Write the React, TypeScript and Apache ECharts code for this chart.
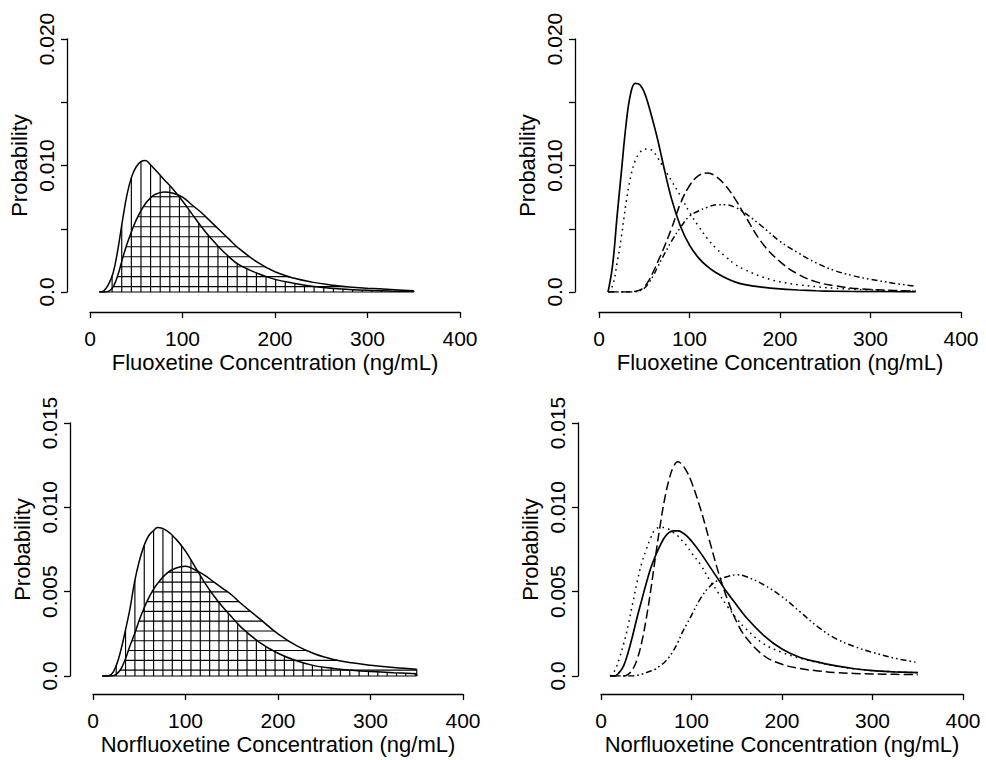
import React, { useEffect, useRef } from "react";
import * as echarts from "echarts";

// ---------- data ----------
// concentration grid, ng/mL
const fluoConc = [10, 15, 20, 25, 30, 35, 40, 45, 50, 55, 60, 65, 70, 80, 90, 100, 110, 120, 130, 140, 150, 160, 180, 200, 220, 240, 260, 280, 300, 325, 350];
const norConcL = [10, 15, 20, 25, 30, 35, 40, 45, 50, 55, 60, 65, 70, 80, 90, 100, 110, 120, 130, 140, 150, 160, 180, 200, 220, 240, 260, 280, 300, 325, 350];
const norConcR = [10, 15, 20, 25, 30, 35, 40, 45, 50, 55, 60, 65, 70, 75, 80, 85, 90, 95, 100, 110, 120, 130, 140, 150, 160, 180, 200, 220, 240, 260, 280, 300, 325, 350];

// top-left: fluoxetine, two shaded densities
const fluoShadeVert = [0, 0.0001, 0.0006, 0.0015, 0.0033, 0.0056, 0.0077, 0.0091, 0.0099, 0.0103, 0.0104, 0.0101, 0.0097, 0.0089, 0.0081, 0.0072, 0.0062, 0.0052, 0.0043, 0.0035, 0.0028, 0.0022, 0.0015, 0.0010, 0.0007, 0.00046, 0.0003, 0.0002, 0.00013, 0.00008, 0.00005];
const fluoShadeHoriz = [0, 0, 0.00005, 0.0004, 0.0013, 0.0026, 0.0038, 0.0048, 0.0057, 0.0064, 0.0070, 0.0074, 0.0077, 0.0079, 0.0078, 0.0075, 0.0069, 0.0063, 0.0056, 0.0049, 0.0042, 0.0035, 0.0024, 0.0016, 0.0011, 0.00078, 0.00056, 0.0004, 0.0003, 0.0002, 0.0001];

// top-right: fluoxetine, four densities
const fluoSolid = [0, 0.0021, 0.0060, 0.0097, 0.0133, 0.0157, 0.0165, 0.0164, 0.0158, 0.0147, 0.0134, 0.0120, 0.0104, 0.0074, 0.0052, 0.0037, 0.0027, 0.0020, 0.0015, 0.0011, 0.0008, 0.0006, 0.00038, 0.00024, 0.00016, 0.0001, 0.00006, 0.00004, 0.00003, 0.00002, 0.00001];
const fluoDotted = [0, 0.0005, 0.0023, 0.0045, 0.0071, 0.0091, 0.0104, 0.0110, 0.0113, 0.0113, 0.0111, 0.0106, 0.0100, 0.0088, 0.0076, 0.0063, 0.0052, 0.0042, 0.0034, 0.0028, 0.0022, 0.0018, 0.0012, 0.0008, 0.00058, 0.00042, 0.0003, 0.00022, 0.00016, 0.0001, 0.00007];
const fluoDashed = [0, 0, 0, 0, 0, 0.00002, 0.00005, 0.00015, 0.0004, 0.0009, 0.0016, 0.0024, 0.0032, 0.0050, 0.0070, 0.0084, 0.0092, 0.0094, 0.0091, 0.0084, 0.0074, 0.0062, 0.0039, 0.0024, 0.0014, 0.0008, 0.0005, 0.0003, 0.0002, 0.00012, 0.00007];
const fluoDashDot = [0, 0, 0, 0, 0, 0, 0.00002, 0.0001, 0.0003, 0.0007, 0.0013, 0.0020, 0.0027, 0.0040, 0.0051, 0.0060, 0.0064, 0.0067, 0.0069, 0.0069, 0.0067, 0.0063, 0.0052, 0.0040, 0.0031, 0.0023, 0.0017, 0.0013, 0.0010, 0.0007, 0.00045];

// bottom-left: norfluoxetine, two shaded densities
const norShadeVert = [0, 0, 0.0001, 0.0006, 0.0015, 0.0027, 0.0040, 0.0056, 0.0068, 0.0077, 0.0083, 0.0086, 0.0088, 0.0086, 0.0081, 0.0074, 0.0065, 0.0056, 0.0048, 0.0041, 0.0035, 0.0029, 0.0020, 0.00135, 0.0009, 0.0006, 0.00045, 0.00034, 0.00026, 0.00019, 0.00014];
const norShadeHoriz = [0, 0, 0, 0.0001, 0.0004, 0.0010, 0.0018, 0.0025, 0.0033, 0.0040, 0.0046, 0.0051, 0.0055, 0.0061, 0.0064, 0.0065, 0.0063, 0.0060, 0.0056, 0.0052, 0.0048, 0.0043, 0.0034, 0.0025, 0.0018, 0.0013, 0.00098, 0.00078, 0.00064, 0.0005, 0.0004];

// bottom-right: norfluoxetine, four densities
const norSolid = [0, 0, 0.0002, 0.0006, 0.0014, 0.0024, 0.0035, 0.0045, 0.0055, 0.0064, 0.0071, 0.0077, 0.0082, 0.0085, 0.0086, 0.0086, 0.0085, 0.0083, 0.0080, 0.0073, 0.0065, 0.0057, 0.0049, 0.0042, 0.0035, 0.0024, 0.0016, 0.0011, 0.00082, 0.0006, 0.00043, 0.00032, 0.00025, 0.0002];
const norDotted = [0, 0.0003, 0.0010, 0.0019, 0.0030, 0.0043, 0.0056, 0.0067, 0.0075, 0.0082, 0.0087, 0.0088, 0.0088, 0.0087, 0.0085, 0.0083, 0.0080, 0.0077, 0.0073, 0.0066, 0.0057, 0.0049, 0.0041, 0.0034, 0.0028, 0.0019, 0.0014, 0.00105, 0.0008, 0.0006, 0.00043, 0.00032, 0.00025, 0.0002];
const norDashed = [0, 0, 0, 0, 0.0001, 0.0004, 0.0010, 0.0020, 0.0034, 0.0051, 0.0070, 0.0088, 0.0104, 0.0116, 0.0124, 0.0127, 0.0125, 0.0121, 0.0115, 0.0099, 0.0080, 0.0061, 0.0045, 0.0032, 0.0023, 0.0012, 0.0007, 0.00044, 0.0003, 0.0002, 0.00015, 0.00012, 0.0001, 0.00008];
const norDashDot = [0, 0, 0, 0, 0, 0, 0.00005, 0.0001, 0.0002, 0.0003, 0.0004, 0.0006, 0.0008, 0.0011, 0.0015, 0.0020, 0.0026, 0.0031, 0.0036, 0.0046, 0.0053, 0.0057, 0.0059, 0.0060, 0.0059, 0.0054, 0.0047, 0.0038, 0.0029, 0.0022, 0.00175, 0.0014, 0.00105, 0.0008];

// tick labels
const xTickLabels = ["0", "100", "200", "300", "400"];
const yTickLabelsTop = ["0.0", "", "0.010", "", "0.020"];
const yTickLabelsBottom = ["0.0", "0.005", "0.010", "0.015"];

const fluoTitle = "Fluoxetine Concentration (ng/mL)";
const norTitle = "Norfluoxetine Concentration (ng/mL)";
const yTitle = "Probability";

// ---------- styles ----------
const FONT = "'Liberation Sans', Arial, Helvetica, sans-serif";
const INK = "#000";
const DASHED = [9, 4];
const DOTTED = [1.6, 4.2];
const DASHDOT = [6, 3, 1.6, 3, 1.6, 3];

function interp(xs: number[], ys: number[], x: number) {
  if (x <= xs[0]) return ys[0];
  for (let i = 0; i < xs.length - 1; i++) {
    if (x <= xs[i + 1]) {
      const t = (x - xs[i]) / (xs[i + 1] - xs[i]);
      return ys[i] + t * (ys[i + 1] - ys[i]);
    }
  }
  return ys[ys.length - 1];
}

// hatch segments clipped to the curves (vertical under one, horizontal under the other)
function hatchSegments(xs: number[], vertYs: number[], horizYs: number[], h: { vStart: number; vStep: number; hStart: number; hStep: number }) {
  const segs: number[][] = [];
  const last = xs.length - 1;
  for (let x = h.vStart; x <= xs[last] + 1e-9; x += h.vStep) {
    if (x < xs[0]) continue;
    const y = interp(xs, vertYs, x);
    if (y > 0) segs.push([x, 0, x, y]);
  }
  const maxY = Math.max(...horizYs);
  for (let lv = h.hStart; lv < maxY; lv += h.hStep) {
    const pts: number[] = [];
    for (let i = 0; i < last; i++) {
      const a = horizYs[i] - lv;
      const b = horizYs[i + 1] - lv;
      if ((a < 0 && b >= 0) || (a >= 0 && b < 0)) pts.push(xs[i] + (xs[i + 1] - xs[i]) * (a / (a - b)));
    }
    if (horizYs[last] >= lv) pts.push(xs[last]);
    for (let j = 0; j + 1 < pts.length; j += 2) segs.push([pts[j], lv, pts[j + 1], lv]);
  }
  segs.push([xs[0], 0, xs[last], 0]);
  segs.push([xs[last], 0, xs[last], vertYs[last]]);
  segs.push([xs[last], 0, xs[last], horizYs[last]]);
  return segs;
}

function pairs(xs: number[], ys: number[]) {
  return xs.map((x, i) => [x, ys[i]]);
}

function curve(idx: number, xs: number[], ys: number[], dash: any, width = 1.5) {
  return {
    type: "line",
    xAxisIndex: idx,
    yAxisIndex: idx,
    data: pairs(xs, ys),
    showSymbol: false,
    symbol: "none",
    smooth: 0.4,
    silent: true,
    lineStyle: { color: INK, width, type: dash },
    z: 3,
  };
}

function hatch(idx: number, segs: number[][]) {
  return {
    type: "custom",
    xAxisIndex: idx,
    yAxisIndex: idx,
    data: segs,
    silent: true,
    encode: { x: [0, 2], y: [1, 3] },
    renderItem: (_p: any, api: any) => {
      const a = api.coord([api.value(0), api.value(1)]);
      const b = api.coord([api.value(2), api.value(3)]);
      return {
        type: "line",
        shape: { x1: a[0], y1: a[1], x2: b[0], y2: b[1] },
        style: { stroke: INK, lineWidth: 1.15 },
      };
    },
    z: 2,
  };
}

const panels = [
  { left: 90, top: 39, width: 370, height: 253, yOff: 23, xOff: 20, max: 0.02, yLabels: yTickLabelsTop, title: fluoTitle },
  { left: 599, top: 39, width: 362, height: 253, yOff: 24, xOff: 20, max: 0.02, yLabels: yTickLabelsTop, title: fluoTitle },
  { left: 93, top: 423, width: 370, height: 253, yOff: 23, xOff: 18, max: 0.015, yLabels: yTickLabelsBottom, title: norTitle },
  { left: 601, top: 423, width: 362, height: 253, yOff: 23, xOff: 18, max: 0.015, yLabels: yTickLabelsBottom, title: norTitle },
];

function buildOption() {
  const grid = panels.map((p) => ({ left: p.left, top: p.top, width: p.width, height: p.height, containLabel: false }));
  const xAxis = panels.map((p, i) => ({
    type: "value",
    gridIndex: i,
    min: 0,
    max: 400,
    interval: 100,
    offset: p.xOff,
    axisLine: { show: true, onZero: false, lineStyle: { color: INK, width: 1.3 } },
    axisTick: { show: true, length: 6, lineStyle: { color: INK, width: 1.3 } },
    axisLabel: { color: INK, fontSize: 21, fontFamily: FONT, margin: 16, formatter: (_v: number, k: number) => xTickLabels[k] ?? "" },
    splitLine: { show: false },
    name: p.title,
    nameLocation: "middle",
    nameGap: 39,
    nameTextStyle: { color: INK, fontSize: 22, fontFamily: FONT },
  }));
  const yAxis = panels.map((p, i) => ({
    type: "value",
    gridIndex: i,
    min: 0,
    max: p.max,
    interval: 0.005,
    offset: p.yOff,
    axisLine: { show: true, onZero: false, lineStyle: { color: INK, width: 1.3 } },
    axisTick: { show: true, length: 6, lineStyle: { color: INK, width: 1.3 } },
    axisLabel: { color: INK, fontSize: 21, fontFamily: FONT, margin: 10, rotate: 90, formatter: (_v: number, k: number) => p.yLabels[k] ?? "" },
    splitLine: { show: false },
    name: yTitle,
    nameLocation: "middle",
    nameGap: 37,
    nameRotate: 90,
    nameTextStyle: { color: INK, fontSize: 22, fontFamily: FONT },
  }));

  const series: any[] = [
    hatch(0, hatchSegments(fluoConc, fluoShadeVert, fluoShadeHoriz, { vStart: 13.5, vStep: 10.4, hStart: 0.00042, hStep: 0.00079 })),
    curve(0, fluoConc, fluoShadeVert, "solid"),
    curve(0, fluoConc, fluoShadeHoriz, "solid"),

    curve(1, fluoConc, fluoSolid, "solid", 1.7),
    curve(1, fluoConc, fluoDotted, DOTTED),
    curve(1, fluoConc, fluoDashed, DASHED),
    curve(1, fluoConc, fluoDashDot, DASHDOT),

    hatch(2, hatchSegments(norConcL, norShadeVert, norShadeHoriz, { vStart: 15, vStep: 10.1, hStart: 0.00035, hStep: 0.00058 })),
    curve(2, norConcL, norShadeVert, "solid"),
    curve(2, norConcL, norShadeHoriz, "solid"),

    curve(3, norConcR, norSolid, "solid", 1.7),
    curve(3, norConcR, norDotted, DOTTED),
    curve(3, norConcR, norDashed, DASHED),
    curve(3, norConcR, norDashDot, DASHDOT),
  ];

  return {
    animation: false,
    backgroundColor: "#fff",
    grid,
    xAxis,
    yAxis,
    series,
  };
}

export default function App() {
  const ref = useRef<HTMLDivElement>(null);
  useEffect(() => {
    if (!ref.current) return;
    const chart = echarts.init(ref.current, undefined, { renderer: "svg" });
    chart.setOption(buildOption() as any);
    return () => chart.dispose();
  }, []);
  return <div ref={ref} style={{ position: "absolute", left: 0, top: 0, width: 986, height: 760, background: "#fff" }} />;
}
